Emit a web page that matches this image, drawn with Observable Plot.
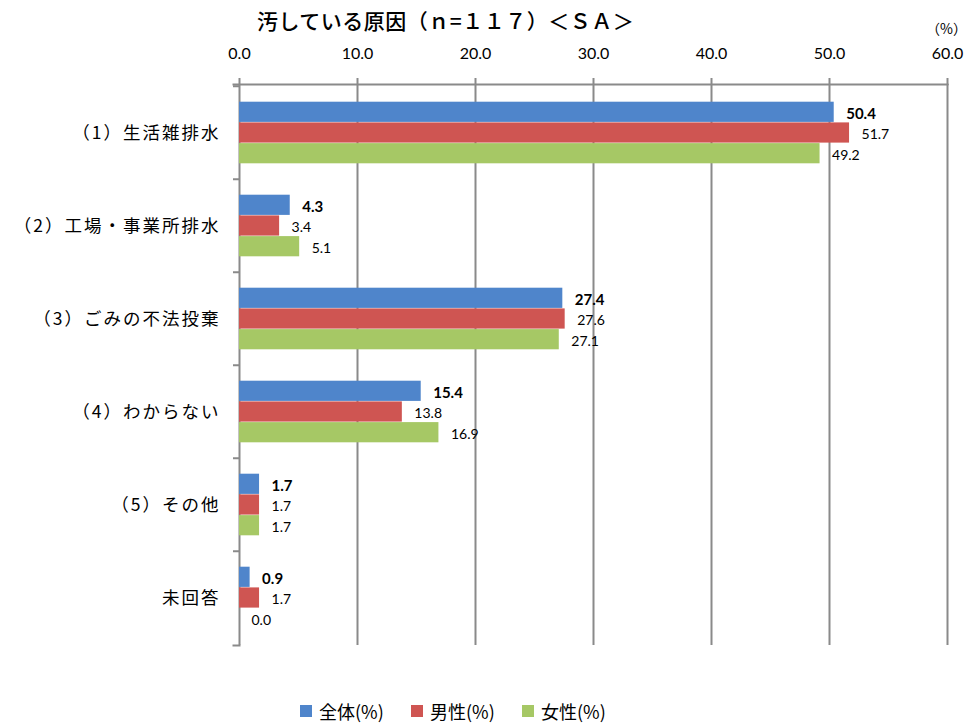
<!DOCTYPE html>
<html>
<head>
<meta charset="utf-8">
<script src="https://cdn.jsdelivr.net/npm/d3@7"></script>
<script src="https://cdn.jsdelivr.net/npm/@observablehq/plot@0.6"></script>
<style>
  html, body { margin: 0; padding: 0; background: #fff; }
  #wrap { position: relative; width: 969px; height: 723px; overflow: hidden; font-family: "Noto Sans CJK JP", sans-serif; }
  #title { height: 36px; padding-left: 257px; box-sizing: border-box; font-size: 21px; line-height: 40px; font-weight: 500; color: #000; white-space: nowrap; letter-spacing: 0.5px; }
  #unit { position: absolute; left: 926px; top: 18px; font-size: 14px; color: #000; }
  #legend { position: absolute; left: 300px; top: 698px; display: flex; }
  .item { width: 111px; display: flex; align-items: center; font-size: 18px; color: #000; white-space: nowrap; }
  .sw { width: 12px; height: 12px; margin-right: 7px; }
  svg g[aria-label="y-axis tick label"] text { letter-spacing: 2px; }
</style>
</head>
<body>
<div id="wrap">
  <div id="title">汚している原因（ｎ=１１７）＜ＳＡ＞</div>
  <div id="unit">（%）</div>
  <div id="chart"></div>
  <div id="legend"></div>
</div>
<script>
const categories = ["（1）生活雑排水", "（2）工場・事業所排水", "（3）ごみの不法投棄", "（4）わからない", "（5）その他", "未回答"];
const series = ["全体(%)", "男性(%)", "女性(%)"];
const total  = [50.4, 4.3, 27.4, 15.4, 1.7, 0.9];
const male   = [51.7, 3.4, 27.6, 13.8, 1.7, 1.7];
const female = [49.2, 5.1, 27.1, 16.9, 1.7, 0.0];
const xTicks = [0, 10, 20, 30, 40, 50, 60];
const colors = ["#4f85cb", "#cf5552", "#a6c865"];

const seriesValues = [total, male, female];
const rows = [];
series.forEach((s, si) => categories.forEach((c, ci) => rows.push({series: s, si, category: c, value: seriesValues[si][ci]})));

const W = 969, mL = 239, mR = 22, mT = 48, mB = 45, H = 654;
const band = (H - mT - mB) / categories.length;
const barH = 20.7;
const inset = (band - barH) / 2;
const offs = [-barH, 0, barH];
const grid = "#8a8a8a";
const numFont = "Lato, 'Noto Sans CJK JP', sans-serif";

const marks = [
  Plot.gridX(xTicks, {stroke: grid, strokeOpacity: 1, strokeWidth: 2}),
  Plot.frame({anchor: "top", stroke: grid, strokeWidth: 2, insetLeft: -6}),
  Plot.frame({anchor: "bottom", stroke: grid, strokeWidth: 2, insetLeft: -6, insetRight: W - mL - mR}),
  Plot.axisX({anchor: "top", ticks: xTicks, tickFormat: d => d.toFixed(1), tickSize: 7, tickPadding: 19, stroke: grid, strokeWidth: 2, fontSize: 16, fill: "#000", fontFamily: numFont, label: null}),
  Plot.axisY({tickSize: 6, text: null, dy: -band / 2, stroke: grid, strokeWidth: 2, label: null}),
  Plot.axisY({tickSize: 0, tickPadding: 19, fontSize: 17.5, fill: "#000", fontFamily: "'Noto Sans CJK JP', sans-serif", label: null})
];
series.forEach((s, si) => {
  const data = rows.filter(d => d.si === si);
  marks.push(Plot.barX(data, {x: "value", y: "category", fill: "series", insetTop: inset, insetBottom: inset, dy: offs[si]}));
  marks.push(Plot.text(data, {x: "value", y: "category", text: d => d.value.toFixed(1), dx: 12, dy: offs[si] + 2, textAnchor: "start",
    fontWeight: si === 0 ? "bold" : "normal", fontSize: si === 0 ? 15 : 14, fill: "#000", fontFamily: numFont}));
});

const chart = Plot.plot({
  width: W, height: H,
  marginLeft: mL, marginRight: mR, marginTop: mT, marginBottom: mB,
  x: {domain: [0, 60]},
  y: {domain: categories, padding: 0},
  color: {domain: series, range: colors},
  style: {background: "#fff", color: "#000"},
  marks
});
document.getElementById("chart").appendChild(chart);

const lg = document.getElementById("legend");
series.forEach((s, i) => {
  const it = document.createElement("div");
  it.className = "item";
  const sw = document.createElement("span");
  sw.className = "sw"; sw.style.background = colors[i];
  it.appendChild(sw);
  it.appendChild(document.createTextNode(s));
  lg.appendChild(it);
});
</script>
</body>
</html>
